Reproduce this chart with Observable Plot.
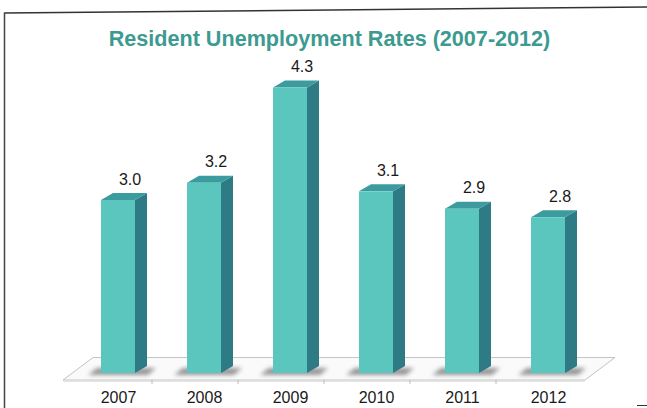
<!DOCTYPE html>
<html><head><meta charset="utf-8">
<script src="https://cdn.jsdelivr.net/npm/d3@7"></script>
<script src="https://cdn.jsdelivr.net/npm/@observablehq/plot@0.6"></script>
<style>
body{margin:0;background:#fff;width:647px;height:408px;overflow:hidden;position:relative;font-family:"Liberation Sans",Arial,sans-serif;}
#frame{position:absolute;left:0;top:0;}
#chart{position:absolute;left:0;top:0;}
#title{position:absolute;left:0;width:659px;top:26px;line-height:24px;text-align:center;font:bold 21.6px "Liberation Sans",Arial,sans-serif;color:#3d9a90;}
</style></head><body>
<svg id="frame" width="647" height="408"><line x1="4.5" y1="13" x2="647" y2="7" stroke="#333" stroke-width="1.5"/><line x1="4.5" y1="12.5" x2="4.5" y2="408" stroke="#444" stroke-width="1.5"/><line x1="637" y1="405.5" x2="647" y2="405.5" stroke="#333"/></svg>
<div id="chart"></div>
<div id="title">Resident Unemployment Rates (2007-2012)</div>
<script>
const years = ["2007", "2008", "2009", "2010", "2011", "2012"];
const rates = [3.0, 3.2, 4.3, 3.1, 2.9, 2.8];
const yBase = 1;
const yTop = 4.5;

const data = years.map((year, i) => ({year, rate: rates[i]}));

const DX = 12, DY = -7;

function floorMark(index, scales, values, dim) {
  const g = d3.create("svg:g");
  const base = scales.y(yBase);
  const xl = dim.marginLeft - 10, xr = dim.width - dim.marginRight - 9;
  const yf = base + 7, yb = base - 15.5, depth = 30;
  g.append("polygon")
    .attr("points", [[xl, yf], [xr, yf], [xr + depth, yb], [xl + depth, yb]].map(p => p.join(",")).join(" "))
    .attr("fill", "#fafafa").attr("stroke", "#c4c4c4").attr("stroke-width", 1);
  g.append("line").attr("x1", xl).attr("x2", xr).attr("y1", yf + 1).attr("y2", yf + 1)
    .attr("stroke", "#dcdcdc").attr("stroke-width", 1.5);
  const bw = scales.x.bandwidth ? scales.x.bandwidth() : 34.7;
  const step = scales.x.step ? scales.x.step() : 86.8;
  for (let i = 0; i < years.length - 1; i++) {
    const bx = scales.x(years[i]) + bw + (step - bw) / 2 - 9;
    g.append("line").attr("x1", bx).attr("x2", bx).attr("y1", yf).attr("y2", yf + 4)
      .attr("stroke", "#bbb").attr("stroke-width", 1);
  }
  return g.node();
}

function shadowMark(index, scales) {
  const g = d3.create("svg:g");
  g.append("defs").append("filter").attr("id", "blur").attr("x", "-20%").attr("y", "-50%").attr("width", "140%").attr("height", "200%")
    .append("feGaussianBlur").attr("stdDeviation", 2);
  const bw = scales.x.bandwidth ? scales.x.bandwidth() : 34.7;
  const base = scales.y(yBase);
  for (const d of data) {
    const x0 = scales.x(d.year), x1 = x0 + bw;
    g.append("polygon")
      .attr("points", [[x0 - 13, base + 2], [x1 + 13, base + 2], [x1 + 21, base - 5], [x0 - 4, base - 5]].map(p => p.join(",")).join(" "))
      .attr("fill", "#555").attr("opacity", 0.6).attr("filter", "url(#blur)");
  }
  return g.node();
}

function facesMark(index, scales) {
  const g = d3.create("svg:g");
  const bw = scales.x.bandwidth ? scales.x.bandwidth() : 34.7;
  const base = scales.y(yBase);
  for (const d of data) {
    const x0 = scales.x(d.year), x1 = x0 + bw, yt = scales.y(d.rate);
    g.append("polygon")
      .attr("points", [[x1, yt], [x1 + DX, yt + DY], [x1 + DX, base + DY], [x1, base]].map(p => p.join(",")).join(" "))
      .attr("fill", "#2e7b86");
    g.append("polygon")
      .attr("points", [[x0, yt], [x0 + DX, yt + DY], [x1 + DX, yt + DY], [x1, yt]].map(p => p.join(",")).join(" "))
      .attr("fill", "#3c9b9f");
  }
  return g.node();
}

const chart = Plot.plot({
  width: 647,
  height: 408,
  marginLeft: 73,
  marginRight: 53,
  marginTop: 40,
  marginBottom: 30,
  style: {fontFamily: "'Liberation Sans', Arial, sans-serif", fontSize: "16px", background: "transparent"},
  x: {domain: years, paddingInner: 0.6, paddingOuter: 0.3, axis: null},
  y: {domain: [yBase, yTop], range: [373, 70.25], axis: null},
  marks: [
    floorMark,
    shadowMark,
    facesMark,
    Plot.barY(data, {x: "year", y1: yBase, y2: "rate", fill: "#5bc6be"}),
    Plot.text(data, {x: "year", y: "rate", text: d => d.rate.toFixed(1), dx: 11.5, dy: -21, fontSize: 16, fill: "#1a1a1a"}),
    Plot.text(data, {x: "year", y: () => yBase, text: "year", dy: 24.5, fontSize: 16, fill: "#1a1a1a"})
  ]
});
document.getElementById("chart").appendChild(chart);
</script>
</body></html>
